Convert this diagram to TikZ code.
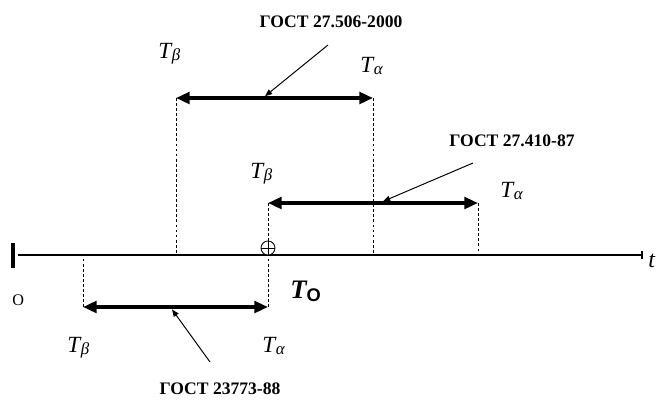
\documentclass[tikz,border=0pt]{standalone}
\usepackage{fontspec}
\setmainfont{Liberation Serif}
\newfontfamily\arialfont{Liberation Sans}
\usepackage{tikz}
\usetikzlibrary{positioning,calc,arrows.meta}

% time label T with an index
\newcommand{\Tlab}[1]{{\fontsize{16.5}{16.5}\selectfont\itshape T}\kern0.5pt\raisebox{-0.45ex}{\fontsize{12}{12}\selectfont\itshape #1}}

\begin{document}
\begin{tikzpicture}[
    every node/.style={inner sep=0pt},
    gost/.style={font=\fontsize{12.5}{12.5}\selectfont\bfseries},
    tlab/.style={anchor=base west},
    interval/.style={{Triangle[length=3.4mm,width=2.9mm]}-{Triangle[length=3.4mm,width=2.9mm]},
                     line width=2.4pt},
    ptr/.style={-{Triangle[length=1.8mm,width=1.4mm]}, line width=0.7pt},
    drop/.style={dash pattern=on 2pt off 1.6pt, line width=0.5pt},
]
\useasboundingbox (0,0) rectangle (16.6,9.975);

% =====================================================================
% Time axis
% =====================================================================
\coordinate (o) at (0.45,3.6);
\coordinate (tend) at (16.05,3.6);
\draw[line width=0.9pt] (o) -- (tend);
\draw[line width=2.2pt] (0.325,3.275) -- (0.325,3.9);
\draw[line width=0.8pt] (tend) ++(0,-0.1) -- ++(0,0.2);
\node[anchor=base west, font=\fontsize{17}{17}\selectfont\itshape] (t) at (16.2,3.3) {t};
\node[anchor=base west, font=\fontsize{11.5}{11.5}\selectfont] (orig) at (0.3,2.35) {O};

% Interval end points
\coordinate (b1) at (4.4,7.525);
\coordinate (a1) at (9.325,7.525);
\coordinate (b2) at (6.7,4.9);
\coordinate (a2) at (11.95,4.9);
\coordinate (b3) at (2.075,2.3);
\coordinate (a3) at (6.7,2.3);

% Dashed drops to the axis
\draw[drop] (b1) -- (b1 |- o);
\draw[drop] (a1) -- (a1 |- o);
\draw[drop] (b2) -- (a3);
\draw[drop] (a2) -- (a2 |- o);
\draw[drop] (b3) -- (b3 |- o);

% Operating time mark
\node[circle, draw, line width=0.6pt, minimum size=0.35cm, fill=white] (op) at (6.7,3.775) {};
\draw[line width=0.6pt] (op.north) -- (op.south) (op.west) -- (op.east);
\node[anchor=base west] (t0) at (7.25,2.525)
    {{\fontsize{19}{19}\selectfont\bfseries\itshape T}\raisebox{-0.55ex}{\arialfont\bfseries\fontsize{13}{13}\selectfont O}};

% =====================================================================
% Intervals
% =====================================================================
\draw[interval] (b1) -- (a1);
\draw[interval] (b2) -- (a2);
\draw[interval] (b3) -- (a3);

\node[tlab] (tb1) at (3.95,8.525) {\Tlab{β}};
\node[tlab] (ta1) at (9.0,8.175) {\Tlab{α}};
\node[tlab] (tb2) at (6.25,5.525) {\Tlab{β}};
\node[tlab] (ta2) at (12.5,5.05) {\Tlab{α}};
\node[tlab] (tb3) at (1.675,1.175) {\Tlab{β}};
\node[tlab] (ta3) at (6.55,1.175) {\Tlab{α}};

% =====================================================================
% Standards and pointers
% =====================================================================
\node[gost] (g1) at (8.275,9.425) {ГОСТ 27.506-2000};
\node[gost] (g2) at (12.8,6.45) {ГОСТ 27.410-87};
\node[gost] (g3) at (5.5,0.25) {ГОСТ 23773-88};

\coordinate (p1) at (8.2,8.85);
\coordinate (p2) at (11.825,5.9);
\coordinate (p3) at (5.25,0.925);
\coordinate (q1) at (6.625,7.57);
\coordinate (q2) at (9.575,4.94);
\coordinate (q3) at (4.3,2.24);
\draw[ptr] (p1) -- (q1);
\draw[ptr] (p2) -- (q2);
\draw[ptr] (p3) -- (q3);

\end{tikzpicture}
\end{document}
